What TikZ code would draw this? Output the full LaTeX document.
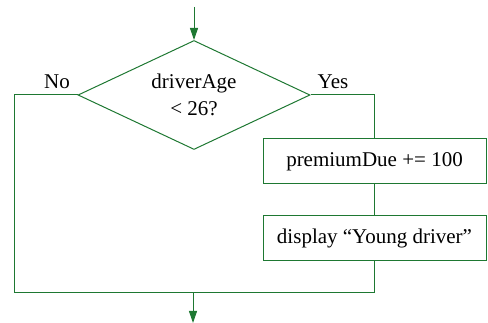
\documentclass[tikz,border=0pt]{standalone}
\usepackage{fontspec}
\setmainfont{Liberation Serif}
\usetikzlibrary{shapes.geometric,arrows.meta}
\definecolor{flowgreen}{RGB}{30,120,50}
\begin{document}
\begin{tikzpicture}[x=1pt,y=-1pt,
  line/.style={draw=flowgreen,line width=1pt},
  arr/.style={line,-{Triangle[length=12pt,width=8pt]}},
  decision/.style={diamond,aspect=2.13,line,inner sep=0pt,minimum width=232pt,minimum height=109pt,align=center,font=\fontsize{21}{28}\selectfont},
  procbox/.style={rectangle,line,inner sep=0pt,minimum width=223pt,minimum height=45pt,font=\fontsize{21}{25}\selectfont},
  lbl/.style={font=\fontsize{21}{25}\selectfont,inner sep=0pt}]
\useasboundingbox (0,0) rectangle (488,323);
\node[decision] (d) at (194,95) {driverAge\\[-1pt]< 26?};
\node[procbox] (b1) at (374.5,161.5) {premiumDue += 100};
\node[procbox] (b2) at (374.5,238.5) {display “Young driver”};
\coordinate (start) at (194,7);
\coordinate (rt) at (374.5,95);
\coordinate (lt) at (14,95);
\coordinate (lb) at (14,293);
\coordinate (rb) at (374.5,293);
\coordinate (mb) at (193,293);
\coordinate (end) at (193,323);
\node[lbl] (no) at (57,82) {No};
\node[lbl] (yes) at (333,82) {Yes};
\draw[arr] (start) -- (d.north);
\draw[line] (d.east) -- (rt) -- (b1.north);
\draw[line] (b1.south) -- (b2.north);
\draw[line] (b2.south) -- (rb) -- (lb) -- (lt) -- (d.west);
\draw[arr] (mb) -- (end);
\end{tikzpicture}
\end{document}
